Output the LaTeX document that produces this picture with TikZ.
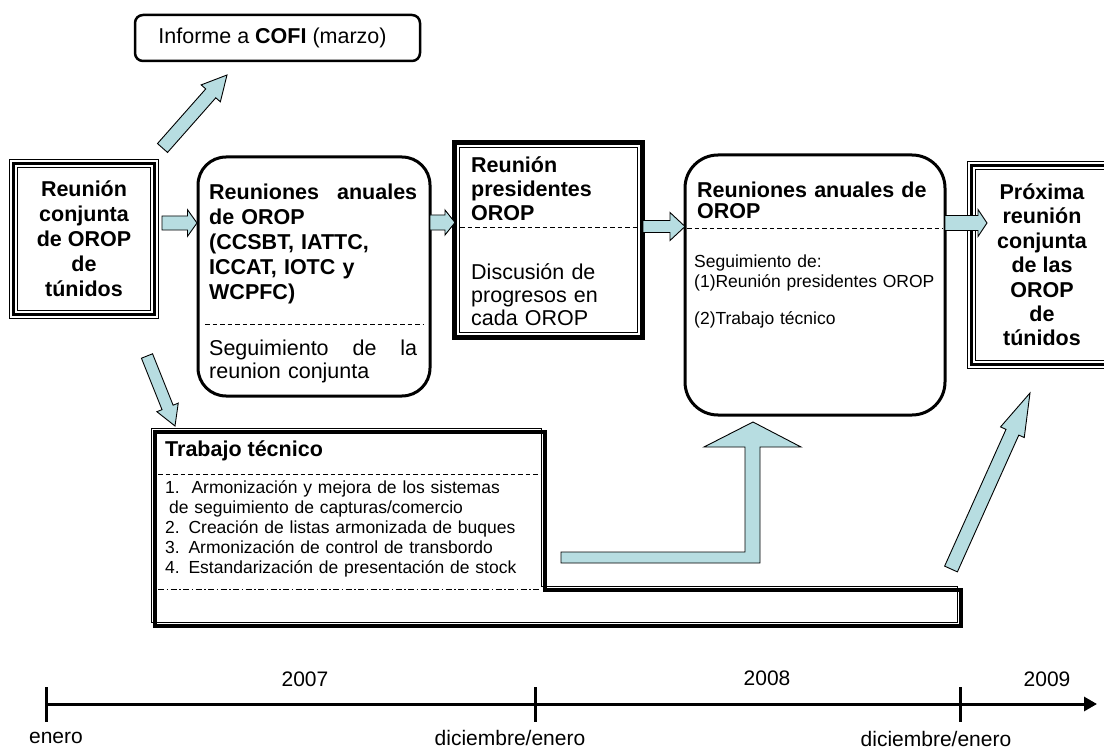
\documentclass[tikz,border=0pt]{standalone}
\usepackage{fontspec}
\setmainfont{Liberation Sans}
\usetikzlibrary{calc,arrows.meta}
\definecolor{arrowfill}{RGB}{183,221,225}
\newcommand\fbig{\fontsize{21.5}{25}\selectfont}
\newcommand\fsmall{\fontsize{17.5}{20}\selectfont}
\newcommand\fline{\fontsize{21}{25}\selectfont}
\tikzset{
  barrow/.style={draw=black, line width=0.9pt, fill=arrowfill, line join=miter},
  rbox/.style={draw, line width=3pt, inner sep=0pt},
  plainbox/.style={inner sep=0pt},
  txt/.style={anchor=base west, inner sep=0pt, align=left},
  sepline/.style={line width=0.9pt, dash pattern=on 4.5pt off 3pt},
  tick/.style={line width=3pt},
  tlabel/.style={font=\fline, inner sep=0pt}
}
% tail, tip, half shaft, half head, head length
\newcommand\blockarrow[5]{%
  \coordinate (bah) at ($(#2)!#5!(#1)$);
  \draw[barrow] ($(#1)!#3!90:(#2)$) -- ($(bah)!#3!90:(#2)$) -- ($(bah)!#4!90:(#2)$)
    -- (#2) -- ($(bah)!#4!-90:(#2)$) -- ($(bah)!#3!-90:(#2)$) -- ($(#1)!#3!-90:(#2)$) -- cycle;}
\newcommand\triplebox[1]{%
  \draw[line width=1pt] (#1.north west) rectangle (#1.south east);
  \draw[line width=2.6pt] ($(#1.north west)+(3.8,3.8)$) rectangle ($(#1.south east)+(-3.8,-3.8)$);
  \draw[line width=1pt] ($(#1.north west)+(7.5,7.5)$) rectangle ($(#1.south east)+(-7.5,-7.5)$);}
\begin{document}
\begin{tikzpicture}[x=1pt,y=-1pt]
\fill[white] (0,0) rectangle (1104,749);
\useasboundingbox (0,0) rectangle (1104,749);

% COFI
\node[draw, line width=2.5pt, rounded corners=8pt, minimum width=285pt, minimum height=46pt, font=\fbig] (cofi) at (277.5,38) {Informe a \textbf{COFI} (marzo)\hspace*{10pt}};

% Box 1
\node[plainbox, minimum width=148pt, minimum height=158pt, align=center, font=\fbig\bfseries] (b1) at (84,239) {Reunión\\conjunta\\de OROP\\de\\túnidos};
\triplebox{b1}

% Box 2
\node[rbox, rounded corners=28pt, minimum width=232pt, minimum height=239pt] (b2) at (314,276.5) {};
\node[txt, text width=208pt, font=\fbig\bfseries] (b2t) at (209,200) {Reuniones\hfill anuales\\de OROP\\(CCSBT, IATTC,\\ICCAT, IOTC y\\WCPFC)};
\draw[sepline] (205,324) -- (423,324);
\node[txt, text width=208pt, font=\fontsize{21.5}{23.5}\selectfont] (b2b) at (209,355) {Seguimiento\hfill de\hfill la\\reunion conjunta};

% Box 3
\node[plainbox, minimum width=193pt, minimum height=200pt] (b3) at (548.5,240) {};
\draw[line width=5pt] ($(b3.north west)+(2.5,2.5)$) rectangle ($(b3.south east)+(-2.5,-2.5)$);
\draw[line width=0.9pt] ($(b3.north west)+(7.5,7.5)$) rectangle ($(b3.south east)+(-7.5,-7.5)$);
\node[txt, text width=170pt, font=\fontsize{21.5}{24}\selectfont\bfseries] (b3t) at (471,172.5) {Reunión\\presidentes\\OROP};
\draw[sepline] (460,227) -- (640,227);
\node[txt, text width=170pt, font=\fontsize{21.5}{23}\selectfont] (b3b) at (471,279.5) {Discusión de\\progresos en\\cada OROP};

% Box 4
\node[rbox, rounded corners=33pt, minimum width=260pt, minimum height=260pt] (b4) at (815,285) {};
\node[txt, text width=245pt, font=\fontsize{21.5}{21}\selectfont\bfseries] (b4t) at (697,197.5) {Reuniones anuales de\\OROP};
\draw[sepline] (687,228) -- (943,228);
\node[txt, text width=245pt, font=\fsmall] (b4b) at (694,267) {Seguimiento de:\\(1)Reunión presidentes OROP\\[18pt](2)Trabajo técnico};

% Box 5
\node[plainbox, minimum width=148pt, minimum height=206pt, align=center, font=\fontsize{21.5}{24.4}\selectfont\bfseries] (b5) at (1042,265) {Próxima\\reunión\\conjunta\\de las\\OROP\\de\\túnidos};
\triplebox{b5}

% Trabajo tecnico
\node[plainbox, minimum width=390pt, minimum height=158pt] (tt) at (350,511) {};
\draw[line width=4pt, line join=miter] (155,432) -- (545,432) -- (545,590) -- (961,590) -- (961,626) -- (155,626) -- cycle;
\draw[line width=0.9pt] (151,428) -- (541,428) -- (541,586) -- (957,586) -- (957,622) -- (151,622) -- cycle;
\draw[sepline] (158,474) -- (541,474);
\draw[line width=0.9pt, dash pattern=on 6pt off 2.5pt on 1.5pt off 2.5pt] (158,589) -- (541,589);
\node[txt, font=\fbig\bfseries] (ttt) at (165,456) {Trabajo técnico};
\node[txt, text width=380pt, font=\fsmall] (ttl) at (165,493.5) {1.\hspace{3pt} Armonización y mejora de los sistemas\\\hspace*{4pt}de seguimiento de capturas/comercio\\2. Creación de listas armonizada de buques\\3. Armonización de control de transbordo\\4. Estandarización de presentación de stock};

% Arrows
\coordinate (a1s) at (162,223);   \coordinate (a1e) at (197,223);
\coordinate (a2s) at (430,222.5); \coordinate (a2e) at (455,222.5);
\coordinate (a3s) at (643,226.5); \coordinate (a3e) at (685,226.5);
\coordinate (a4s) at (945,223);   \coordinate (a4e) at (987,223);
\coordinate (a5s) at (162.5,148); \coordinate (a5e) at (227,75);
\coordinate (a6s) at (147,356);   \coordinate (a6e) at (175,426);
\coordinate (a7s) at (951,569);   \coordinate (a7e) at (1030,393);
\blockarrow{a1s}{a1e}{7pt}{13.3pt}{9.5pt}
\blockarrow{a2s}{a2e}{7.5pt}{12.5pt}{10pt}
\blockarrow{a3s}{a3e}{6pt}{14pt}{15pt}
\blockarrow{a4s}{a4e}{7.5pt}{13.5pt}{9pt}
\blockarrow{a5s}{a5e}{6.7pt}{12.8pt}{24.5pt}
\blockarrow{a6s}{a6e}{6pt}{11.5pt}{20pt}
\blockarrow{a7s}{a7e}{7pt}{13pt}{43pt}
\draw[barrow] (561,552) -- (745,552) -- (745,447) -- (704,447) -- (753,422) -- (801,447) -- (760,447) -- (760,563) -- (561,563) -- cycle;

% Timeline
\coordinate (t0) at (46,704);
\coordinate (t1) at (535,704);
\coordinate (t2) at (960,704);
\coordinate (tend) at (1097,704);
\draw[line width=3pt, -{Triangle[length=13pt,width=14pt]}] (t0) -- (tend);
\draw[tick] ($(t0)+(0,-17)$) -- ($(t0)+(0,18)$);
\draw[tick] ($(t1)+(0,-17)$) -- ($(t1)+(0,18)$);
\draw[tick] ($(t2)+(0,-17)$) -- ($(t2)+(0,18)$);
\node[tlabel] (y7) at (305,679) {2007};
\node[tlabel] (y8) at (767,678) {2008};
\node[tlabel] (y9) at (1047,679) {2009};
\node[tlabel] (m0) at (56,738) {enero};
\node[tlabel] (m1) at (510,737.5) {diciembre/enero};
\node[tlabel] (m2) at (936,738.5) {diciembre/enero};
\end{tikzpicture}
\end{document}
